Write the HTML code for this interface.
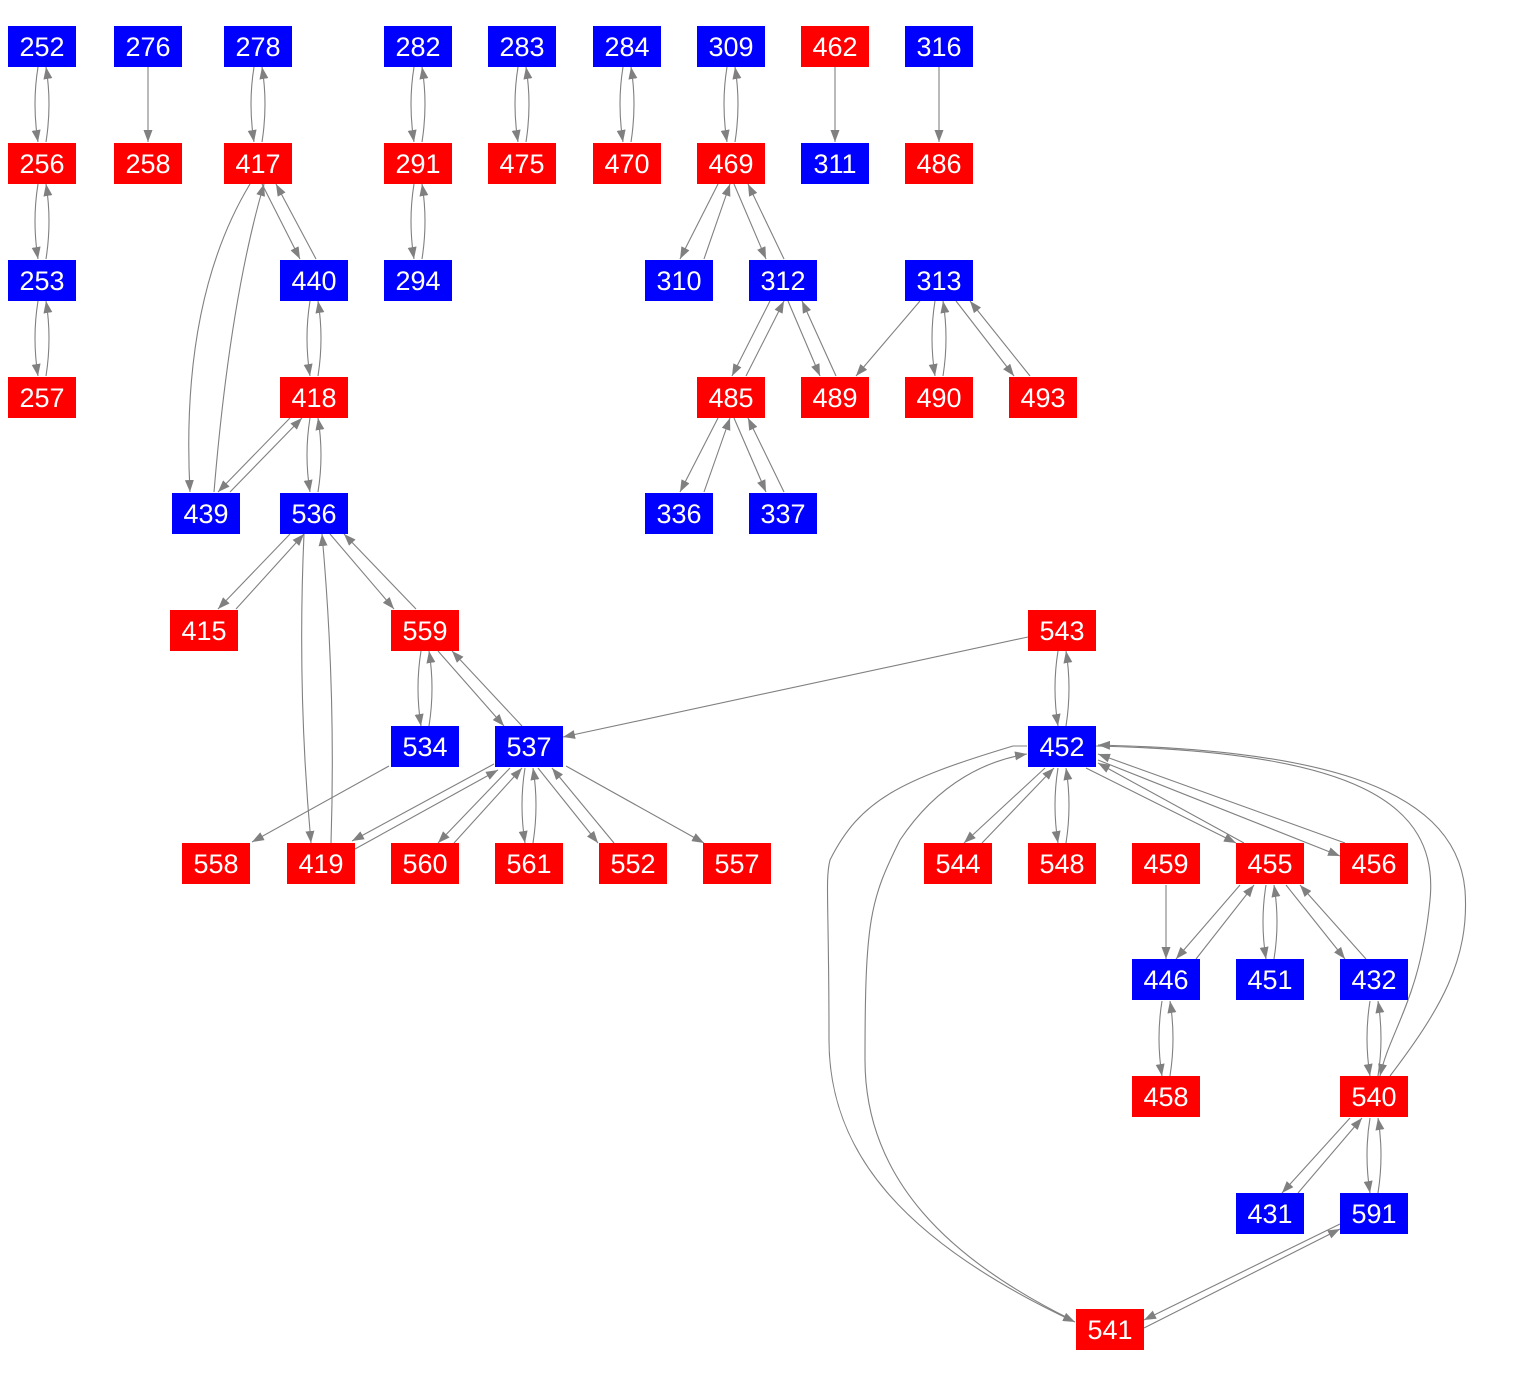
<!DOCTYPE html>
<html><head><meta charset="utf-8"><style>
html,body{margin:0;padding:0;background:#fff;}
svg{display:block;}
text{font-family:"Liberation Sans",Arial,sans-serif;font-size:27px;fill:#fff;text-anchor:middle;}
.e{stroke:#808080;stroke-width:1.1;fill:none;marker-end:url(#a);}
.r{fill:#ff0000;}
.b{fill:#0000ff;}
</style></head><body>
<svg width="1533" height="1375" viewBox="0 0 1533 1375" xmlns="http://www.w3.org/2000/svg">
<defs><marker id="a" markerWidth="12" markerHeight="9" refX="12" refY="4.5" orient="auto" markerUnits="userSpaceOnUse"><path d="M0,0 L12,4.5 L0,9 z" fill="#808080"/></marker></defs>
<g>
<path class="e" d="M38,67 Q32,104 38,142"/><path class="e" d="M46,142 Q52,104 46,67"/>
<path class="e" d="M38,184 Q32,221 38,259"/><path class="e" d="M46,259 Q52,221 46,184"/>
<path class="e" d="M38,301 Q32,338 38,376"/><path class="e" d="M46,376 Q52,338 46,301"/>
<path class="e" d="M254,67 Q248,104 254,142"/><path class="e" d="M262,142 Q268,104 262,67"/>
<path class="e" d="M414,67 Q408,104 414,142"/><path class="e" d="M422,142 Q428,104 422,67"/>
<path class="e" d="M414,184 Q408,221 414,259"/><path class="e" d="M422,259 Q428,221 422,184"/>
<path class="e" d="M518,67 Q512,104 518,142"/><path class="e" d="M526,142 Q532,104 526,67"/>
<path class="e" d="M623,67 Q617,104 623,142"/><path class="e" d="M631,142 Q637,104 631,67"/>
<path class="e" d="M727,67 Q721,104 727,142"/><path class="e" d="M735,142 Q741,104 735,67"/>
<path class="e" d="M148,67 L148,142"/>
<path class="e" d="M835,67 L835,142"/>
<path class="e" d="M939,67 L939,142"/>
<path class="e" d="M310,301 Q304,338 310,376"/><path class="e" d="M318,376 Q324,338 318,301"/>
<path class="e" d="M310,418 Q304,455 310,492"/><path class="e" d="M318,492 Q324,455 318,418"/>
<path class="e" d="M935,301 Q929,338 935,376"/><path class="e" d="M943,376 Q949,338 943,301"/>
<path class="e" d="M421,651 Q415,688 421,726"/><path class="e" d="M429,726 Q435,688 429,651"/>
<path class="e" d="M525,768 Q519,805 525,843"/><path class="e" d="M533,843 Q539,805 533,768"/>
<path class="e" d="M1058,651 Q1052,688 1058,726"/><path class="e" d="M1066,726 Q1072,688 1066,651"/>
<path class="e" d="M1058,768 Q1052,805 1058,843"/><path class="e" d="M1066,843 Q1072,805 1066,768"/>
<path class="e" d="M1166,885 L1166,959"/>
<path class="e" d="M1266,885 Q1260,922 1266,959"/><path class="e" d="M1274,959 Q1280,922 1274,885"/>
<path class="e" d="M1162,1001 Q1156,1038 1162,1076"/><path class="e" d="M1170,1076 Q1176,1038 1170,1001"/>
<path class="e" d="M1370,1001 Q1364,1038 1370,1076"/><path class="e" d="M1378,1076 Q1384,1038 1378,1001"/>
<path class="e" d="M1370,1118 Q1364,1155 1370,1193"/><path class="e" d="M1378,1193 Q1384,1155 1378,1118"/>
<path class="e" d="M304,534 Q297,690 311,843"/><path class="e" d="M331,843 Q336,690 322,534"/>
<path class="e" d="M250,184 Q180,300 190,492"/><path class="e" d="M214,492 Q230,300 264,184"/>
<path class="e" d="M262,184 L300,259"/><path class="e" d="M316,259 L276,184"/>
<path class="e" d="M290,418 L218,492"/><path class="e" d="M230,492 L302,418"/>
<path class="e" d="M718,184 L680,259"/><path class="e" d="M704,259 L730,184"/>
<path class="e" d="M734,184 L766,259"/><path class="e" d="M784,259 L748,184"/>
<path class="e" d="M770,301 L732,376"/><path class="e" d="M746,376 L784,301"/>
<path class="e" d="M788,301 L820,376"/><path class="e" d="M836,376 L802,301"/>
<path class="e" d="M920,301 L856,376"/>
<path class="e" d="M956,301 L1014,376"/><path class="e" d="M1030,376 L970,301"/>
<path class="e" d="M718,418 L680,492"/><path class="e" d="M704,492 L730,418"/>
<path class="e" d="M734,418 L766,492"/><path class="e" d="M784,492 L748,418"/>
<path class="e" d="M290,534 L218,609"/><path class="e" d="M236,609 L304,534"/>
<path class="e" d="M330,534 L394,609"/><path class="e" d="M416,609 L344,534"/>
<path class="e" d="M438,651 L504,726"/><path class="e" d="M522,726 L452,651"/>
<path class="e" d="M389,766 L252,842"/>
<path class="e" d="M494,764 L352,841"/><path class="e" d="M355,849 L498,770"/>
<path class="e" d="M510,768 L438,843"/><path class="e" d="M454,843 L522,768"/>
<path class="e" d="M538,768 L598,843"/><path class="e" d="M614,843 L552,768"/>
<path class="e" d="M566,766 L704,843"/>
<path class="e" d="M1028,637 L563,737"/>
<path class="e" d="M1045,768 L964,843"/><path class="e" d="M982,843 L1054,768"/>
<path class="e" d="M1086,768 L1236,843"/><path class="e" d="M1244,843 L1098,763"/>
<path class="e" d="M1098,760 L1340,856"/><path class="e" d="M1345,843 L1098,754"/>
<path class="e" d="M1240,885 L1176,959"/><path class="e" d="M1196,959 L1254,885"/>
<path class="e" d="M1286,885 L1345,959"/><path class="e" d="M1366,959 L1300,885"/>
<path class="e" d="M1350,1118 L1282,1193"/><path class="e" d="M1298,1193 L1362,1118"/>
<path class="e" d="M1340,1224 L1144,1320"/><path class="e" d="M1144,1328 L1340,1229"/>
<path class="e" d="M1096,746 C1350,752 1440,800 1430,900 C1420,1000 1390,1030 1380,1076"/>
<path class="e" d="M1390,1076 C1440,1010 1470,960 1465,890 C1455,780 1300,750 1098,745"/>
<path class="e" d="M1027,746 L1013,746 C900,780 860,800 830,860 C825,880 829,900 829,1040 C829,1150 900,1240 1075,1322"/>
<path class="e" d="M1072,1320 C950,1260 865,1180 865,1060 C865,920 870,900 900,840 C940,780 990,760 1027,754"/>
</g>
<g>
<rect class="b" x="8" y="26" width="68" height="41"/><text x="42" y="56">252</text>
<rect class="b" x="114" y="26" width="68" height="41"/><text x="148" y="56">276</text>
<rect class="b" x="224" y="26" width="68" height="41"/><text x="258" y="56">278</text>
<rect class="b" x="384" y="26" width="68" height="41"/><text x="418" y="56">282</text>
<rect class="b" x="488" y="26" width="68" height="41"/><text x="522" y="56">283</text>
<rect class="b" x="593" y="26" width="68" height="41"/><text x="627" y="56">284</text>
<rect class="b" x="697" y="26" width="68" height="41"/><text x="731" y="56">309</text>
<rect class="r" x="801" y="26" width="68" height="41"/><text x="835" y="56">462</text>
<rect class="b" x="905" y="26" width="68" height="41"/><text x="939" y="56">316</text>

<rect class="r" x="8" y="143" width="68" height="41"/><text x="42" y="173">256</text>
<rect class="r" x="114" y="143" width="68" height="41"/><text x="148" y="173">258</text>
<rect class="r" x="224" y="143" width="68" height="41"/><text x="258" y="173">417</text>
<rect class="r" x="384" y="143" width="68" height="41"/><text x="418" y="173">291</text>
<rect class="r" x="488" y="143" width="68" height="41"/><text x="522" y="173">475</text>
<rect class="r" x="593" y="143" width="68" height="41"/><text x="627" y="173">470</text>
<rect class="r" x="697" y="143" width="68" height="41"/><text x="731" y="173">469</text>
<rect class="b" x="801" y="143" width="68" height="41"/><text x="835" y="173">311</text>
<rect class="r" x="905" y="143" width="68" height="41"/><text x="939" y="173">486</text>

<rect class="b" x="8" y="260" width="68" height="41"/><text x="42" y="290">253</text>
<rect class="b" x="280" y="260" width="68" height="41"/><text x="314" y="290">440</text>
<rect class="b" x="384" y="260" width="68" height="41"/><text x="418" y="290">294</text>
<rect class="b" x="645" y="260" width="68" height="41"/><text x="679" y="290">310</text>
<rect class="b" x="749" y="260" width="68" height="41"/><text x="783" y="290">312</text>
<rect class="b" x="905" y="260" width="68" height="41"/><text x="939" y="290">313</text>

<rect class="r" x="8" y="377" width="68" height="41"/><text x="42" y="407">257</text>
<rect class="r" x="280" y="377" width="68" height="41"/><text x="314" y="407">418</text>
<rect class="r" x="697" y="377" width="68" height="41"/><text x="731" y="407">485</text>
<rect class="r" x="801" y="377" width="68" height="41"/><text x="835" y="407">489</text>
<rect class="r" x="905" y="377" width="68" height="41"/><text x="939" y="407">490</text>
<rect class="r" x="1009" y="377" width="68" height="41"/><text x="1043" y="407">493</text>

<rect class="b" x="172" y="493" width="68" height="41"/><text x="206" y="523">439</text>
<rect class="b" x="280" y="493" width="68" height="41"/><text x="314" y="523">536</text>
<rect class="b" x="645" y="493" width="68" height="41"/><text x="679" y="523">336</text>
<rect class="b" x="749" y="493" width="68" height="41"/><text x="783" y="523">337</text>

<rect class="r" x="170" y="610" width="68" height="41"/><text x="204" y="640">415</text>
<rect class="r" x="391" y="610" width="68" height="41"/><text x="425" y="640">559</text>
<rect class="r" x="1028" y="610" width="68" height="41"/><text x="1062" y="640">543</text>

<rect class="b" x="391" y="726" width="68" height="41"/><text x="425" y="756">534</text>
<rect class="b" x="495" y="726" width="68" height="41"/><text x="529" y="756">537</text>
<rect class="b" x="1028" y="726" width="68" height="41"/><text x="1062" y="756">452</text>

<rect class="r" x="182" y="843" width="68" height="41"/><text x="216" y="873">558</text>
<rect class="r" x="287" y="843" width="68" height="41"/><text x="321" y="873">419</text>
<rect class="r" x="391" y="843" width="68" height="41"/><text x="425" y="873">560</text>
<rect class="r" x="495" y="843" width="68" height="41"/><text x="529" y="873">561</text>
<rect class="r" x="599" y="843" width="68" height="41"/><text x="633" y="873">552</text>
<rect class="r" x="703" y="843" width="68" height="41"/><text x="737" y="873">557</text>
<rect class="r" x="924" y="843" width="68" height="41"/><text x="958" y="873">544</text>
<rect class="r" x="1028" y="843" width="68" height="41"/><text x="1062" y="873">548</text>
<rect class="r" x="1132" y="843" width="68" height="41"/><text x="1166" y="873">459</text>
<rect class="r" x="1236" y="843" width="68" height="41"/><text x="1270" y="873">455</text>
<rect class="r" x="1340" y="843" width="68" height="41"/><text x="1374" y="873">456</text>

<rect class="b" x="1132" y="959" width="68" height="41"/><text x="1166" y="989">446</text>
<rect class="b" x="1236" y="959" width="68" height="41"/><text x="1270" y="989">451</text>
<rect class="b" x="1340" y="959" width="68" height="41"/><text x="1374" y="989">432</text>

<rect class="r" x="1132" y="1076" width="68" height="41"/><text x="1166" y="1106">458</text>
<rect class="r" x="1340" y="1076" width="68" height="41"/><text x="1374" y="1106">540</text>

<rect class="b" x="1236" y="1193" width="68" height="41"/><text x="1270" y="1223">431</text>
<rect class="b" x="1340" y="1193" width="68" height="41"/><text x="1374" y="1223">591</text>

<rect class="r" x="1076" y="1309" width="68" height="41"/><text x="1110" y="1339">541</text>
</g>
</svg>
</body></html>
